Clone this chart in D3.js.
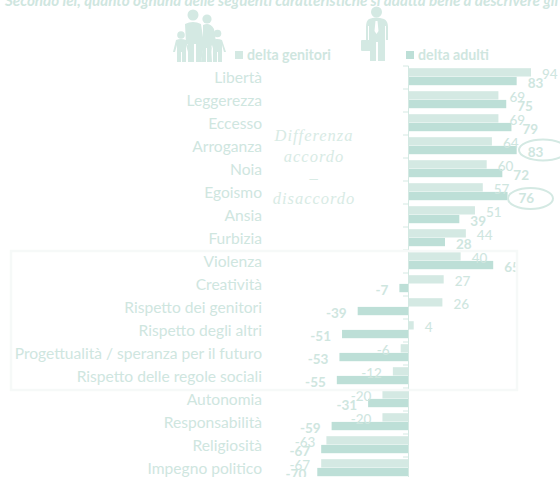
<!DOCTYPE html>
<html><head><meta charset="utf-8">
<script src="https://cdnjs.cloudflare.com/ajax/libs/d3/7.8.5/d3.min.js"></script>
<style>html,body{margin:0;padding:0;background:#fff}svg{display:block}text{font-family:Lato,"Open Sans",sans-serif}</style>
</head><body><svg id="c" width="560" height="477"></svg>
<script>
const categories=["Libertà","Leggerezza","Eccesso","Arroganza","Noia","Egoismo","Ansia","Furbizia","Violenza","Creatività","Rispetto dei genitori","Rispetto degli altri","Progettualità / speranza per il futuro","Rispetto delle regole sociali","Autonomia","Responsabilità","Religiosità","Impegno politico"];
const deltaGenitori=[94,69,69,64,60,57,51,44,40,27,26,4,-6,-12,-20,-20,-63,-67];
const deltaAdulti=[83,75,79,83,72,76,39,28,65,-7,-39,-51,-53,-55,-31,-59,-67,-70];
const seriesNames=["delta genitori","delta adulti"];
const titleText="Secondo lei, quanto ognuna delle seguenti caratteristiche si adatta bene a descrivere gli adulti?";
const noteLines=["Differenza","accordo","–","disaccordo"];
const circled=["Arroganza","Egoismo"];

const LIGHT="#d4e9e3",DARK="#bddfd7",TXT="#cfe6df";
const svg=d3.select("#c");
const x=d3.scaleLinear().domain([0,94]).range([408.5,531]);
const y=d3.scaleBand().domain(categories).range([66,480]);
const sub=d3.scaleBand().domain(seriesNames).range([2.2,19.6]);

// title
svg.append("text").attr("x",5).attr("y",6).attr("font-size",15.2).attr("font-style","italic").attr("font-weight",700).attr("fill",TXT).text(titleText);

// family icon
const fam=svg.append("g").attr("fill",LIGHT);
[[193,15,5.5],[207,19,4.6],[181,35,3.8],[217.5,33.5,3.8]].forEach(c=>fam.append("circle").attr("cx",c[0]).attr("cy",c[1]).attr("r",c[2]));
fam.append("path").attr("d","M185 24Q193 20 201 24L204 44L201 62H196V44H194V62H188V44L186 44Z");
fam.append("path").attr("d","M203 25Q210 22 214 29L216 42L211 46L212 62H207V48H206V62H201L203 46Z");
fam.append("path").attr("d","M176 40Q181 38 186 40L190 52H188L186 45V62H182V52H181V62H177V45L175 52H173Z");
fam.append("path").attr("d","M212 40Q217 38 222 40L226 52H224L222 45V62H218V52H217V62H213V45L211 52Z");

// man icon
const man=svg.append("g").attr("fill",LIGHT);
man.append("circle").attr("cx",376.5).attr("cy",12).attr("r",5.5);
man.append("path").attr("d","M369 19Q376 16 384 19Q388 21 388 27V40H386V26H385V61H378V42H376V61H370V50H369V26H368V40L366 40V27Q366 21 369 19Z");
man.append("rect").attr("x",361).attr("y",40).attr("width",10).attr("height",11).attr("rx",1);
man.append("path").attr("d","M375.5 21H377.5L378.5 31L376.5 34L374.5 31Z").attr("fill","#fff");

// legend
[[235,247,LIGHT],[406,418,DARK]].forEach((l,i)=>{
  svg.append("rect").attr("x",l[0]).attr("y",51).attr("width",8).attr("height",8).attr("fill",l[2]);
  svg.append("text").attr("x",l[1]).attr("y",60).attr("font-size",14.2).attr("font-weight",700).attr("fill",TXT).text(seriesNames[i]);
});

// category labels
svg.append("g").selectAll("text").data(categories).join("text")
  .attr("x",262).attr("y",d=>y(d)+y.bandwidth()/2+5.5).attr("text-anchor","end")
  .attr("font-size",15.6).attr("fill",TXT).text(d=>d);

// bars
const rows=categories.map((c,i)=>({c,g:deltaGenitori[i],a:deltaAdulti[i]}));
const barData=rows.flatMap(r=>[{c:r.c,s:seriesNames[0],v:r.g},{c:r.c,s:seriesNames[1],v:r.a}]);
svg.append("g").selectAll("rect").data(barData).join("rect")
  .attr("x",d=>Math.min(x(0),x(d.v))).attr("width",d=>Math.abs(x(d.v)-x(0)))
  .attr("y",d=>y(d.c)+sub(d.s)).attr("height",sub.bandwidth()-0.4)
  .attr("fill",d=>d.s===seriesNames[0]?LIGHT:DARK);

// axis
const ticks=categories.map(c=>y(c));
svg.append("g").selectAll("line").data(ticks).join("line")
  .attr("x1",403).attr("x2",x(0)).attr("y1",d=>d).attr("y2",d=>d).attr("stroke",LIGHT);
svg.append("line").attr("x1",x(0)).attr("x2",x(0)).attr("y1",66).attr("y2",477).attr("stroke",LIGHT);

// value labels
svg.append("g").selectAll("text").data(barData).join("text")
  .attr("x",d=>x(d.v)+(d.v<0?-11:11)).attr("text-anchor",d=>d.v<0?"end":"start")
  .attr("y",d=>y(d.c)+sub(d.s)+sub.bandwidth()/2+(d.s===seriesNames[0]?6.5:7))
  .attr("font-size",13.5).attr("font-weight",d=>d.s===seriesNames[0]?500:700).attr("fill",TXT).text(d=>d.v);

// cut at frame edge (as in the reference), then the frame on top
svg.append("rect").attr("x",515.5).attr("y",250).attr("width",22).attr("height",27).attr("fill","#fff");
svg.append("rect").attr("x",11).attr("y",251).attr("width",506).attr("height",139).attr("fill","none").attr("stroke","#f6f9f8").attr("stroke-width",2.5);

// circled values
svg.append("g").selectAll("ellipse").data(circled).join("ellipse")
  .attr("cx",d=>d==="Arroganza"?543:530.5).attr("cy",d=>y(d)+y.bandwidth()/2+(d==="Arroganza"?3.5:6))
  .attr("rx",d=>d==="Arroganza"?24:22.5).attr("ry",10.5).attr("fill","none").attr("stroke",LIGHT).attr("stroke-width",2);

// note
svg.append("g").selectAll("text").data(noteLines).join("text")
  .attr("x",314).attr("y",(d,i)=>140.5+i*21.2).attr("text-anchor","middle")
  .style("font-family","'Liberation Serif',serif").attr("font-style","italic").attr("font-size",16.5).attr("letter-spacing",1)
  .attr("fill","#d8ebe5").text(d=>d);
</script></body></html>
